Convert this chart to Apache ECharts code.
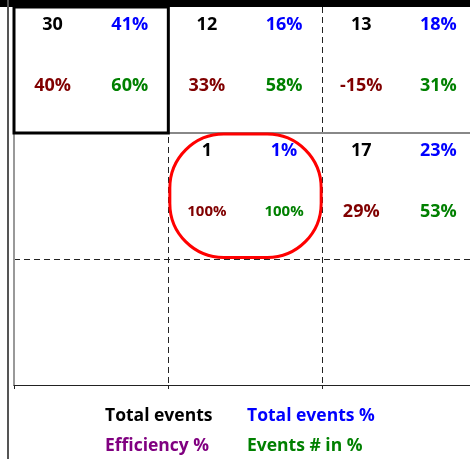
<!DOCTYPE html>
<html><head><meta charset="utf-8">
<script src="https://cdn.jsdelivr.net/npm/echarts@6/dist/echarts.min.js"></script>
<style>html,body{margin:0;padding:0;background:#fff}#c{width:470px;height:459px}</style>
</head><body><div id="c"></div>
<script>
// cell positions (column, row) of each filled cell
const cellCol = [0, 1, 2, 1, 2];
const cellRow = [0, 0, 0, 1, 1];
// values per cell
const totalEvents = [30, 12, 13, 1, 17];
const totalEventsPct = [41, 16, 18, 1, 23];
const efficiencyPct = [40, 33, -15, 100, 29];
const eventsInPct = [60, 58, 31, 100, 53];
// highlighted cells [col, row]
const highlightCell = [0, 0];
const circledCell = [1, 1];
const seriesNames = ['Total events', 'Total events %', 'Efficiency %', 'Events # in %'];

const FONT = '"Open Sans", "Noto Sans", sans-serif';
const cellColors = ['#000000', '#0000ff', '#800000', '#008000'];
const legendColors = ['#000000', '#0000ff', '#800080', '#008000'];
const valueSets = [totalEvents, totalEventsPct, efficiencyPct, eventsInPct];
const isPct = [false, true, true, true];

function labelSeries(k) {
  const dx = (k % 2 === 0) ? 0.25 : 0.75;
  const dy = (k < 2) ? 0.138 : 0.628;
  const vals = valueSets[k];
  return {
    type: 'scatter', name: seriesNames[k], symbolSize: 0, silent: true, z: 5,
    itemStyle: { color: legendColors[k], opacity: 1 },
    data: cellCol.map((c, i) => [c + dx, cellRow[i] + dy, vals[i]]),
    label: {
      show: true, position: 'inside', opacity: 1,
      formatter: p => {
        const v = p.value[2];
        const t = isPct[k] ? v + '%' : String(v);
        return Math.abs(v) >= 100 ? '{s|' + t + '}' : t;
      },
      color: cellColors[k], fontFamily: FONT, fontWeight: 'bold', fontSize: 18,
      rich: { s: { color: cellColors[k], fontFamily: FONT, fontWeight: 'bold', fontSize: 15 } }
    },
    emphasis: { disabled: true }
  };
}

const series = [0, 1, 2, 3].map(labelSeries);
series[0].markLine = {
  silent: true, symbol: 'none', label: { show: false },
  lineStyle: { type: 'solid', color: '#888888', width: 2 },
  data: [{ yAxis: 1 }]
};
series.push({
  type: 'custom', name: 'boxes', silent: true, z: 10, clip: false,
  data: [[highlightCell[0], highlightCell[1], 0], [circledCell[0], circledCell[1], 1]],
  renderItem: function (params, api) {
    const c = api.value(0), r = api.value(1), kind = api.value(2);
    const p0 = api.coord([c, r]);
    const p1 = api.coord([c + 1, r + 1]);
    const x = Math.min(p0[0], p1[0]), y = Math.min(p0[1], p1[1]);
    const w = Math.abs(p1[0] - p0[0]), h = Math.abs(p1[1] - p0[1]);
    if (kind === 0) {
      return { type: 'rect', shape: { x: x, y: y, width: w, height: h },
        style: { fill: 'none', stroke: '#000', lineWidth: 3 } };
    }
    return { type: 'rect', shape: { x: x + 1.5, y: y + 1, width: w - 3, height: h - 2.5, r: 54 },
      style: { fill: 'none', stroke: '#ff0000', lineWidth: 3 } };
  }
});

const splitStyle = { color: '#222', width: 1, type: [6, 4] };
const legendText = { fontFamily: FONT, fontWeight: 'bold', fontSize: 17.5, lineHeight: 20 };
const legendPos = [[100, 406], [242, 406], [100, 436], [242, 436]];

const option = {
  animation: false,
  backgroundColor: '#fff',
  grid: { left: 14, top: 7, width: 463, height: 378, outerBoundsMode: 'none', containLabel: false },
  xAxis: {
    type: 'value', min: 0, max: 3, interval: 1, position: 'bottom',
    axisLine: { show: true, onZero: false, lineStyle: { color: '#222', width: 1 } },
    axisTick: { show: true, length: 4, lineStyle: { color: '#222' } },
    axisLabel: { show: false },
    splitLine: { show: true, showMinLine: false, showMaxLine: false, lineStyle: splitStyle }
  },
  yAxis: {
    type: 'value', min: 0, max: 3, interval: 1, inverse: true,
    axisLine: { show: true, onZero: false, lineStyle: { color: '#999', width: 2 } },
    axisTick: { show: false },
    axisLabel: { show: false },
    splitLine: { show: true, showMinLine: false, showMaxLine: false, lineStyle: splitStyle }
  },
  legend: [0, 1, 2, 3].map(k => ({
    left: legendPos[k][0], top: legendPos[k][1], itemWidth: 0, itemHeight: 0, padding: 0,
    selectedMode: false, textStyle: legendText,
    data: [{ name: seriesNames[k], textStyle: { color: legendColors[k] } }]
  })),
  graphic: [
    { type: 'rect', left: 0, top: 0, shape: { width: 470, height: 7 }, style: { fill: '#000' }, z: 100 },
    { type: 'rect', left: 7, top: 0, shape: { width: 2, height: 459 }, style: { fill: '#555' }, z: 100 }
  ],
  series: series
};

const chart = echarts.init(document.getElementById('c'), null, { renderer: 'canvas' });
chart.setOption(option);
</script>
</body></html>
